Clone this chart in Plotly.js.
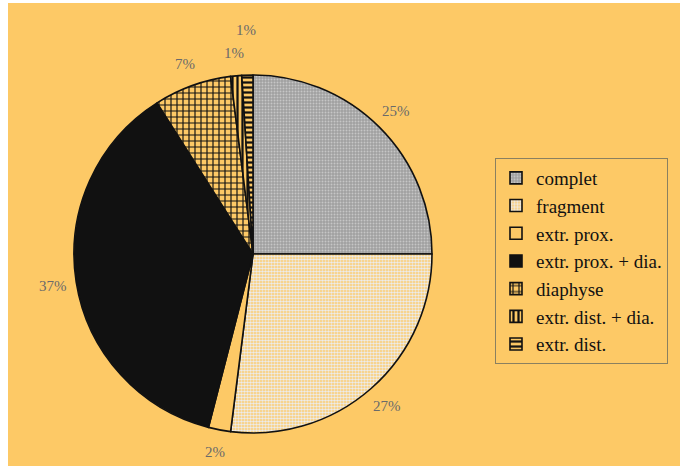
<!DOCTYPE html>
<html>
<head>
<meta charset="utf-8">
<script src="https://cdn.plot.ly/plotly-3.0.1.min.js"></script>
<style>
  html, body { margin: 0; padding: 0; background: #ffffff; }
  #chart { width: 680px; height: 466px; }
</style>
</head>
<body>
<div id="chart"></div>
<script>
const categories = ["complet", "fragment", "extr. prox.", "extr. prox. + dia.", "diaphyse", "extr. dist. + dia.", "extr. dist."];
const percentages = [25, 27, 2, 37, 7, 1, 1];

const W = 680, H = 466;
const bg = "#FDC966";
const fillColors = ["#a0a0a0", bg, bg, "#111111", bg, bg, bg];
const patternShapes = [".", ".", "", "", "+", "|", "-"];
const patternFg = ["#c6c6c6", "#ececec", "#000000", "#000000", "#111111", "#111111", "#111111"];
const patternSize = [3, 3, 8, 8, 6, 5, 5];
const patternSolidity = [0.35, 0.6, 0.3, 0.3, 0.35, 0.45, 0.45];

// pie geometry (pixels)
const cx = 253, cy = 254, r = 179;
const labelGap = 23;

const trace = {
  type: "pie",
  labels: categories,
  values: percentages,
  sort: false,
  direction: "clockwise",
  rotation: 0,
  textinfo: "none",
  marker: {
    colors: fillColors,
    line: { color: "#111111", width: 1.6 },
    pattern: {
      shape: patternShapes,
      fgcolor: patternFg,
      bgcolor: fillColors,
      size: patternSize,
      solidity: patternSolidity
    }
  },
  domain: { x: [(cx - r) / W, (cx + r) / W], y: [(H - cy - r) / H, (H - cy + r) / H] },
  hoverinfo: "label+value",
  showlegend: true
};

// percentage labels, placed outside each slice from the slice's mid angle
const total = percentages.reduce((a, b) => a + b, 0);
const annotations = [];
let cum = 0;
let prev = null;
percentages.forEach((v) => {
  const mid = (cum + v / 2) / total * 2 * Math.PI;
  cum += v;
  let R = r + labelGap;
  let px = cx + R * Math.sin(mid), py = cy - R * Math.cos(mid);
  if (prev && Math.hypot(px - prev[0], py - prev[1]) < 24) {
    R += 22;
    px = cx + R * Math.sin(mid); py = cy - R * Math.cos(mid);
  }
  prev = [px, py];
  annotations.push({
    xref: "paper", yref: "paper",
    x: px / W, y: 1 - py / H,
    text: v + "%",
    showarrow: false,
    xanchor: "center", yanchor: "middle",
    font: { family: "Liberation Serif, Times New Roman, serif", size: 15, color: "#6a6a6a" }
  });
});

const layout = {
  width: W,
  height: H,
  margin: { l: 0, r: 0, t: 0, b: 0 },
  paper_bgcolor: bg,
  plot_bgcolor: bg,
  showlegend: true,
  legend: {
    x: 495 / W,
    y: 1 - 158 / H,
    xanchor: "left",
    yanchor: "top",
    bgcolor: "rgba(0,0,0,0)",
    bordercolor: "#8a8060",
    borderwidth: 1,
    font: { family: "Liberation Serif, Times New Roman, serif", size: 19, color: "#111111" },
    traceorder: "normal"
  },
  annotations: annotations,
  shapes: [
    { type: "rect", xref: "paper", yref: "paper", x0: 0, x1: 8 / W, y0: 0, y1: 1, fillcolor: "#ffffff", line: { width: 0 }, layer: "below" },
    { type: "rect", xref: "paper", yref: "paper", x0: 0, x1: 1, y0: 1 - 3 / H, y1: 1, fillcolor: "#ffffff", line: { width: 0 }, layer: "below" }
  ]
};

trace.legendlabels = categories.map((s) => '<span style="font-size:16.6px">' + s + '</span>');

Plotly.newPlot("chart", [trace], layout, { displayModeBar: false, staticPlot: true });
</script>
</body>
</html>
